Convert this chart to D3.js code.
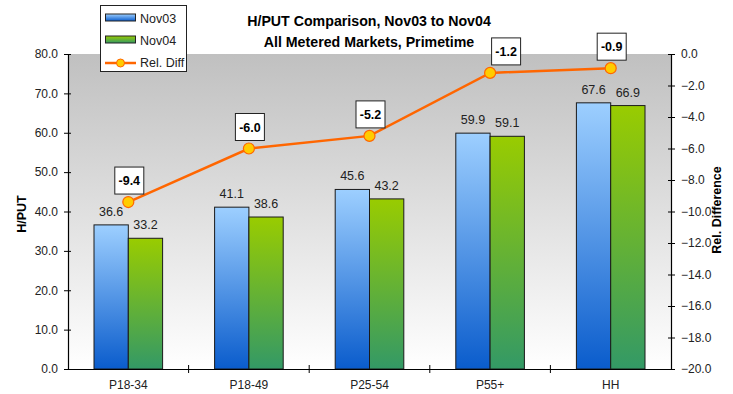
<!DOCTYPE html>
<html>
<head>
<meta charset="utf-8">
<script src="https://cdn.jsdelivr.net/npm/d3@7"></script>
<style>
  html, body { margin: 0; padding: 0; background: #fff; }
  svg { display: block; font-family: "Liberation Sans", Arial, sans-serif; }
</style>
</head>
<body>
<svg id="chart" width="733" height="394"></svg>
<script>
// H/PUT by demo, Nov03 vs Nov04, with relative difference on the right axis
const categories = ["P18-34", "P18-49", "P25-54", "P55+", "HH"];
const nov03 = [36.6, 41.1, 45.6, 59.9, 67.6];
const nov04 = [33.2, 38.6, 43.2, 59.1, 66.9];
const relDiff = [-9.4, -6.0, -5.2, -1.2, -0.9];
const leftTicks = [0, 10, 20, 30, 40, 50, 60, 70, 80];
const rightTicks = [0, -2, -4, -6, -8, -10, -12, -14, -16, -18, -20];

const svg = d3.select("#chart");
const plot = { left: 68, right: 671, top: 54, bottom: 369 };

const x = d3.scaleBand().domain(categories).range([plot.left, plot.right]).padding(0);
const y = d3.scaleLinear().domain([0, 80]).range([plot.bottom, plot.top]);
const y2 = d3.scaleLinear().domain([-20, 0]).range([plot.bottom, plot.top]);
const barW = 34.3;

const defs = svg.append("defs");
function vGrad(id, top, bottom) {
  const g = defs.append("linearGradient").attr("id", id)
    .attr("x1", 0).attr("y1", 0).attr("x2", 0).attr("y2", 1);
  g.append("stop").attr("offset", "0%").attr("stop-color", top);
  g.append("stop").attr("offset", "100%").attr("stop-color", bottom);
}
vGrad("bgGrad", "#c0c0c0", "#ffffff");
vGrad("blueGrad", "#9dcfff", "#0a5ccc");
vGrad("greenGrad", "#99cc00", "#339966");

// plot area background
svg.append("rect")
  .attr("x", plot.left).attr("y", plot.top)
  .attr("width", plot.right - plot.left).attr("height", plot.bottom - plot.top)
  .attr("fill", "url(#bgGrad)");

// bars
const series = [
  { name: "Nov03", values: nov03, fill: "url(#blueGrad)", offset: -1 },
  { name: "Nov04", values: nov04, fill: "url(#greenGrad)", offset: 0 }
];
series.forEach(s => {
  const g = svg.append("g");
  g.selectAll("rect").data(s.values).join("rect")
    .attr("x", (d, i) => x(categories[i]) + x.bandwidth() / 2 + s.offset * barW)
    .attr("y", d => y(d))
    .attr("width", barW)
    .attr("height", d => y(0) - y(d))
    .attr("fill", s.fill)
    .attr("stroke", "#1a1a1a").attr("stroke-width", 1);
  g.selectAll("text").data(s.values).join("text")
    .attr("x", (d, i) => x(categories[i]) + x.bandwidth() / 2 + s.offset * barW + barW / 2)
    .attr("y", d => y(d) - 9)
    .attr("text-anchor", "middle")
    .attr("font-size", 12.5).attr("fill", "#222")
    .text(d => d.toFixed(1));
});

// axes
const fmt = d3.format(".1f");
const leftAxis = svg.append("g").attr("transform", `translate(${plot.left},0)`)
  .call(d3.axisLeft(y).tickValues(leftTicks).tickFormat(fmt).tickSizeInner(4).tickSizeOuter(0).tickPadding(6));
leftAxis.selectAll(".tick line").attr("x2", -4).attr("x1", 3);
const rightAxis = svg.append("g").attr("transform", `translate(${plot.right},0)`)
  .call(d3.axisRight(y2).tickValues(rightTicks).tickFormat(fmt).tickSizeInner(4).tickSizeOuter(0).tickPadding(6));
rightAxis.selectAll(".tick line").attr("x1", -3).attr("x2", 4);
const bottomAxis = svg.append("g").attr("transform", `translate(0,${plot.bottom})`)
  .call(d3.axisBottom(x).tickSize(0).tickPadding(11));
// category separators
bottomAxis.selectAll(".sep").data(categories.slice(1)).join("line")
  .attr("class", "sep")
  .attr("x1", d => x(d)).attr("x2", d => x(d))
  .attr("y1", -4).attr("y2", 4)
  .attr("stroke", "#000");
[leftAxis, rightAxis, bottomAxis].forEach(a => {
  a.select(".domain").attr("stroke", "#000").attr("stroke-width", 1.2);
  a.selectAll(".tick line").attr("stroke", "#000");
  a.selectAll("text").attr("font-size", 12).attr("fill", "#222")
    .attr("font-family", "Liberation Sans, Arial, sans-serif");
});

// relative difference line
const cx = c => x(c) + x.bandwidth() / 2;
svg.append("path")
  .datum(relDiff)
  .attr("d", d3.line().x((d, i) => cx(categories[i])).y(d => y2(d)))
  .attr("fill", "none").attr("stroke", "#ff6600").attr("stroke-width", 2.5);
svg.append("g").selectAll("circle").data(relDiff).join("circle")
  .attr("cx", (d, i) => cx(categories[i])).attr("cy", d => y2(d))
  .attr("r", 5.5).attr("fill", "#ffcc00").attr("stroke", "#ff6600").attr("stroke-width", 1.2);

// boxed labels for relative difference (P55+ label nudged right, clear of the title)
const labelShift = i => (categories[i] === "P55+" ? 16 : 1);
const lbl = svg.append("g").selectAll("g").data(relDiff).join("g")
  .attr("transform", (d, i) => `translate(${cx(categories[i]) + labelShift(i)},${y2(d) - 8})`);
lbl.append("rect")
  .attr("x", -14.5).attr("y", -27).attr("width", 29).attr("height", 27)
  .attr("fill", "#fff").attr("stroke", "#222").attr("stroke-width", 1);
lbl.append("text")
  .attr("x", 0).attr("y", -9)
  .attr("text-anchor", "middle").attr("font-size", 12.5).attr("font-weight", "bold").attr("fill", "#000")
  .text(d => d.toFixed(1));

// title
const title = svg.append("text").attr("x", 369).attr("text-anchor", "middle")
  .attr("font-size", 14.2).attr("font-weight", "bold").attr("fill", "#000");
title.append("tspan").attr("x", 369).attr("y", 25.5).text("H/PUT Comparison, Nov03 to Nov04");
title.append("tspan").attr("x", 369).attr("y", 47).text("All Metered Markets, Primetime");

// axis titles
svg.append("text").attr("transform", "translate(26,214) rotate(-90)")
  .attr("text-anchor", "middle").attr("font-size", 12.5).attr("font-weight", "bold")
  .text("H/PUT");
svg.append("text").attr("transform", "translate(721,210) rotate(-90)")
  .attr("text-anchor", "middle").attr("font-size", 12.5).attr("font-weight", "bold")
  .text("Rel. Difference");

// legend
const lg = svg.append("g");
lg.append("rect").attr("x", 100.5).attr("y", 5.5).attr("width", 86).attr("height", 66)
  .attr("fill", "#fff").attr("stroke", "#222");
const legendItems = [
  { label: "Nov03", fill: "url(#blueGrad)", type: "bar" },
  { label: "Nov04", fill: "url(#greenGrad)", type: "bar" },
  { label: "Rel. Diff", type: "line" }
];
legendItems.forEach((it, i) => {
  const yy = 17.5 + i * 22;
  if (it.type === "bar") {
    lg.append("rect").attr("x", 105.5).attr("y", yy - 3.5).attr("width", 30).attr("height", 7)
      .attr("fill", it.fill).attr("stroke", "#222");
  } else {
    lg.append("line").attr("x1", 105).attr("x2", 136).attr("y1", yy + 1.5).attr("y2", yy + 1.5)
      .attr("stroke", "#ff6600").attr("stroke-width", 2.5);
    lg.append("circle").attr("cx", 120.5).attr("cy", yy + 1.5).attr("r", 4)
      .attr("fill", "#ffcc00").attr("stroke", "#ff6600");
  }
  lg.append("text").attr("x", 140).attr("y", yy + 5.5).attr("font-size", 12.5).attr("fill", "#222")
    .text(it.label);
});
</script>
</body>
</html>
